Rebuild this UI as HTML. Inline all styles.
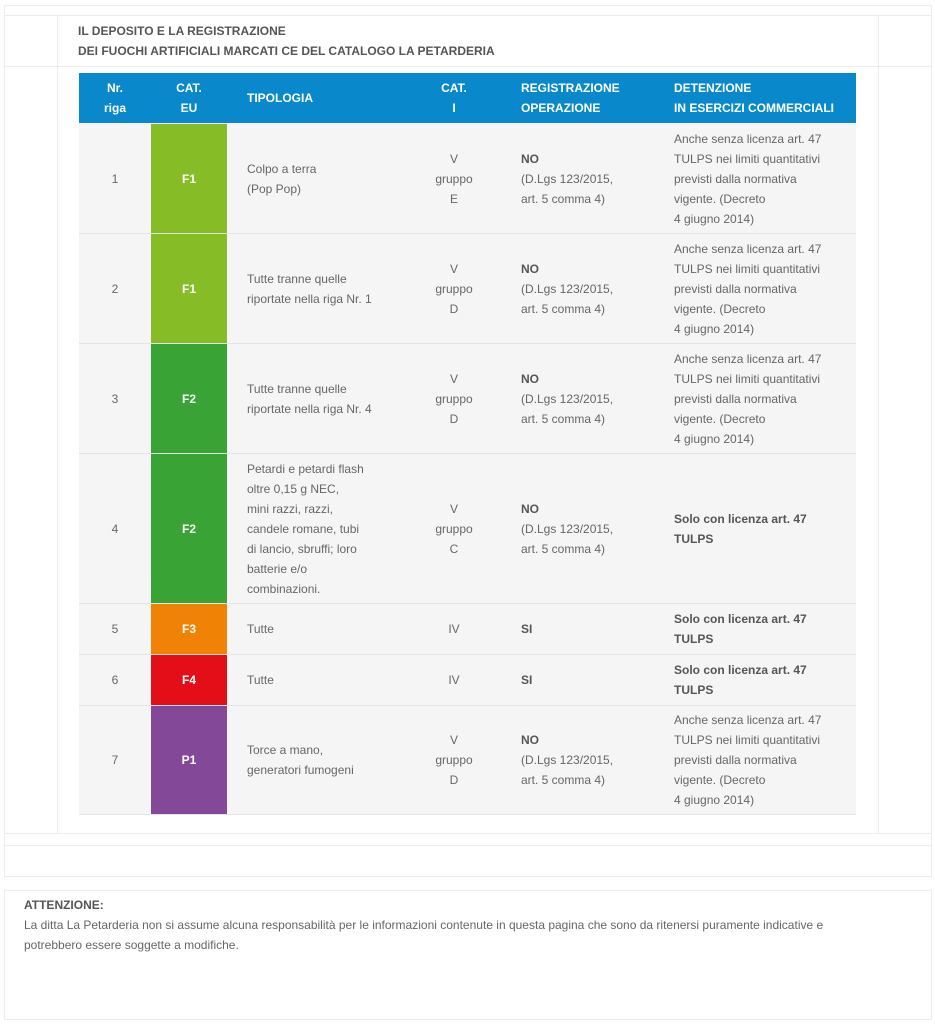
<!DOCTYPE html>
<html><head><meta charset="utf-8"><style>
*{margin:0;padding:0;box-sizing:border-box}
body{width:935px;height:1024px;background:#fff;font-family:"Liberation Sans",sans-serif;font-size:12px;color:#666;position:relative;overflow:hidden}
.a{position:absolute}
.t{line-height:20px}
b{color:#555}
</style></head><body>
<div class="a" style="left:4px;top:5px;width:928px;height:872px;border:1px solid #ececec"></div>
<div class="a" style="left:4px;top:15px;width:928px;height:1px;background:#ececec"></div>
<div class="a" style="left:4px;top:66px;width:928px;height:1px;background:#ececec"></div>
<div class="a" style="left:4px;top:833px;width:928px;height:1px;background:#ececec"></div>
<div class="a" style="left:4px;top:845px;width:928px;height:1px;background:#ececec"></div>
<div class="a" style="left:57px;top:15px;width:1px;height:818px;background:#ececec"></div>
<div class="a" style="left:878px;top:15px;width:1px;height:818px;background:#ececec"></div>
<div class="a t" style="left:78px;top:21px;font-weight:bold;color:#555;font-size:12px">IL DEPOSITO E LA REGISTRAZIONE<br>DEI FUOCHI ARTIFICIALI MARCATI CE DEL CATALOGO LA PETARDERIA</div>

<div class="a" style="left:79px;top:73px;width:777px;height:50px;background:#0a88cc"></div>
<div class="a t" style="left:79px;top:78px;width:72px;text-align:center;color:#fff;font-weight:bold">Nr.<br>riga</div>
<div class="a t" style="left:151px;top:78px;width:76px;text-align:center;color:#fff;font-weight:bold">CAT.<br>EU</div>
<div class="a t" style="left:247px;top:88px;color:#fff;font-weight:bold">TIPOLOGIA</div>
<div class="a t" style="left:424px;top:78px;width:60px;text-align:center;color:#fff;font-weight:bold">CAT.<br>I</div>
<div class="a t" style="left:521px;top:78px;color:#fff;font-weight:bold">REGISTRAZIONE<br>OPERAZIONE</div>
<div class="a t" style="left:674px;top:78px;color:#fff;font-weight:bold">DETENZIONE<br>IN ESERCIZI COMMERCIALI</div>

<div class="a" style="left:79px;top:123px;width:777px;height:692px;background:#f5f5f5"></div>
<div class="a" style="left:79px;top:233px;width:777px;height:1px;background:#e4e4e4"></div>
<div class="a" style="left:79px;top:343px;width:777px;height:1px;background:#e4e4e4"></div>
<div class="a" style="left:79px;top:453px;width:777px;height:1px;background:#e4e4e4"></div>
<div class="a" style="left:79px;top:603px;width:777px;height:1px;background:#e4e4e4"></div>
<div class="a" style="left:79px;top:654px;width:777px;height:1px;background:#e4e4e4"></div>
<div class="a" style="left:79px;top:705px;width:777px;height:1px;background:#e4e4e4"></div>
<div class="a" style="left:79px;top:814px;width:777px;height:1px;background:#e4e4e4"></div>
<div class="a" style="left:151px;top:124px;width:76px;height:109px;background:#86bc25"></div>
<div class="a" style="left:151px;top:234px;width:76px;height:109px;background:#86bc25"></div>
<div class="a" style="left:151px;top:344px;width:76px;height:109px;background:#3aa335"></div>
<div class="a" style="left:151px;top:454px;width:76px;height:149px;background:#3aa335"></div>
<div class="a" style="left:151px;top:604px;width:76px;height:50px;background:#f08206"></div>
<div class="a" style="left:151px;top:655px;width:76px;height:50px;background:#e30e18"></div>
<div class="a" style="left:151px;top:706px;width:76px;height:108px;background:#834897"></div>

<div class="a t" style="left:79px;top:169px;width:72px;text-align:center">1</div>
<div class="a t" style="left:151px;top:169px;width:76px;text-align:center;color:#fff;font-weight:bold">F1</div>
<div class="a t" style="left:247px;top:159px">Colpo a terra<br>(Pop Pop)</div>
<div class="a t" style="left:424px;top:149px;width:60px;text-align:center">V<br>gruppo<br>E</div>
<div class="a t" style="left:521px;top:149px"><b>NO</b><br>(D.Lgs 123/2015,<br>art. 5 comma 4)</div>
<div class="a t" style="left:674px;top:129px">Anche senza licenza art. 47<br>TULPS nei limiti quantitativi<br>previsti dalla normativa<br>vigente. (Decreto<br>4 giugno 2014)</div>
<div class="a t" style="left:79px;top:279px;width:72px;text-align:center">2</div>
<div class="a t" style="left:151px;top:279px;width:76px;text-align:center;color:#fff;font-weight:bold">F1</div>
<div class="a t" style="left:247px;top:269px">Tutte tranne quelle<br>riportate nella riga Nr. 1</div>
<div class="a t" style="left:424px;top:259px;width:60px;text-align:center">V<br>gruppo<br>D</div>
<div class="a t" style="left:521px;top:259px"><b>NO</b><br>(D.Lgs 123/2015,<br>art. 5 comma 4)</div>
<div class="a t" style="left:674px;top:239px">Anche senza licenza art. 47<br>TULPS nei limiti quantitativi<br>previsti dalla normativa<br>vigente. (Decreto<br>4 giugno 2014)</div>
<div class="a t" style="left:79px;top:389px;width:72px;text-align:center">3</div>
<div class="a t" style="left:151px;top:389px;width:76px;text-align:center;color:#fff;font-weight:bold">F2</div>
<div class="a t" style="left:247px;top:379px">Tutte tranne quelle<br>riportate nella riga Nr. 4</div>
<div class="a t" style="left:424px;top:369px;width:60px;text-align:center">V<br>gruppo<br>D</div>
<div class="a t" style="left:521px;top:369px"><b>NO</b><br>(D.Lgs 123/2015,<br>art. 5 comma 4)</div>
<div class="a t" style="left:674px;top:349px">Anche senza licenza art. 47<br>TULPS nei limiti quantitativi<br>previsti dalla normativa<br>vigente. (Decreto<br>4 giugno 2014)</div>
<div class="a t" style="left:79px;top:519px;width:72px;text-align:center">4</div>
<div class="a t" style="left:151px;top:519px;width:76px;text-align:center;color:#fff;font-weight:bold">F2</div>
<div class="a t" style="left:247px;top:459px">Petardi e petardi flash<br>oltre 0,15 g NEC,<br>mini razzi, razzi,<br>candele romane, tubi<br>di lancio, sbruffi; loro<br>batterie e/o<br>combinazioni.</div>
<div class="a t" style="left:424px;top:499px;width:60px;text-align:center">V<br>gruppo<br>C</div>
<div class="a t" style="left:521px;top:499px"><b>NO</b><br>(D.Lgs 123/2015,<br>art. 5 comma 4)</div>
<div class="a t" style="left:674px;top:509px"><b>Solo con licenza art. 47<br>TULPS</b></div>
<div class="a t" style="left:79px;top:619px;width:72px;text-align:center">5</div>
<div class="a t" style="left:151px;top:619px;width:76px;text-align:center;color:#fff;font-weight:bold">F3</div>
<div class="a t" style="left:247px;top:619px">Tutte</div>
<div class="a t" style="left:424px;top:619px;width:60px;text-align:center">IV</div>
<div class="a t" style="left:521px;top:619px"><b>SI</b></div>
<div class="a t" style="left:674px;top:609px"><b>Solo con licenza art. 47<br>TULPS</b></div>
<div class="a t" style="left:79px;top:670px;width:72px;text-align:center">6</div>
<div class="a t" style="left:151px;top:670px;width:76px;text-align:center;color:#fff;font-weight:bold">F4</div>
<div class="a t" style="left:247px;top:670px">Tutte</div>
<div class="a t" style="left:424px;top:670px;width:60px;text-align:center">IV</div>
<div class="a t" style="left:521px;top:670px"><b>SI</b></div>
<div class="a t" style="left:674px;top:660px"><b>Solo con licenza art. 47<br>TULPS</b></div>
<div class="a t" style="left:79px;top:750px;width:72px;text-align:center">7</div>
<div class="a t" style="left:151px;top:750px;width:76px;text-align:center;color:#fff;font-weight:bold">P1</div>
<div class="a t" style="left:247px;top:740px">Torce a mano,<br>generatori fumogeni</div>
<div class="a t" style="left:424px;top:730px;width:60px;text-align:center">V<br>gruppo<br>D</div>
<div class="a t" style="left:521px;top:730px"><b>NO</b><br>(D.Lgs 123/2015,<br>art. 5 comma 4)</div>
<div class="a t" style="left:674px;top:710px">Anche senza licenza art. 47<br>TULPS nei limiti quantitativi<br>previsti dalla normativa<br>vigente. (Decreto<br>4 giugno 2014)</div>

<div class="a" style="left:4px;top:890px;width:928px;height:130px;border:1px solid #ececec"></div>
<div class="a t" style="left:24px;top:895px;width:900px"><b>ATTENZIONE:</b><br>La ditta La Petarderia non si assume alcuna responsabilità per le informazioni contenute in questa pagina che sono da ritenersi puramente indicative e<br>potrebbero essere soggette a modifiche.</div>
</body></html>
